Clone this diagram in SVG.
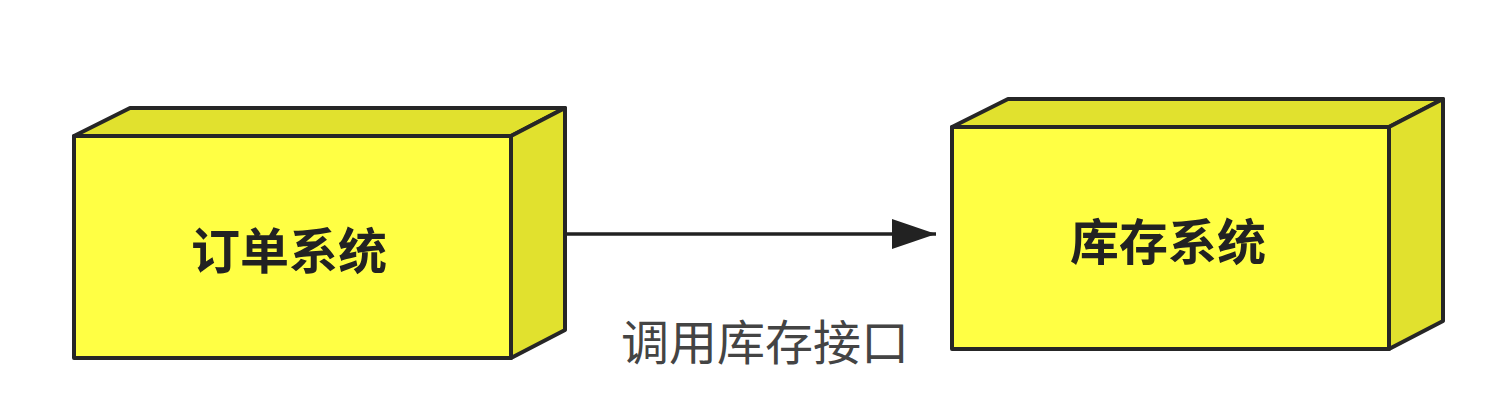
<svg xmlns="http://www.w3.org/2000/svg" width="1494" height="400" viewBox="0 0 1494 400">
<defs>
<style>
.front{fill:#FFFF44;stroke:#262626;stroke-width:4;stroke-linejoin:round}
.side{fill:#E1E12E;stroke:#262626;stroke-width:4;stroke-linejoin:round}
.title{font-family:"Noto Sans CJK SC","Noto Sans",sans-serif;font-weight:bold;font-size:49px;fill:#222;text-anchor:middle;dominant-baseline:central}
.lbl{font-family:"Noto Sans CJK SC","Noto Sans",sans-serif;font-size:48px;fill:#444;text-anchor:middle;dominant-baseline:central}
.edge{stroke:#222;stroke-width:3.5;fill:none}
</style>
<marker id="arr" markerUnits="userSpaceOnUse" markerWidth="48" markerHeight="34" refX="46" refY="16" orient="auto">
<path d="M2,1 L46,16 L2,31 Z" fill="#222"/>
</marker>
</defs>
<rect width="1494" height="400" fill="#fff"/>
<g id="node-order">
<path class="side" d="M74,136 L130,108 L565,108 L511,136 Z"/>
<path class="side" d="M511,136 L565,108 L565,330 L511,358 Z"/>
<rect class="front" x="74" y="136" width="437" height="222"/>
<text class="title" x="289" y="247">订单系统</text>
</g>
<g id="node-inventory">
<path class="side" d="M952,127 L1008,99 L1443,99 L1389,127 Z"/>
<path class="side" d="M1389,127 L1443,99 L1443,321 L1389,349 Z"/>
<rect class="front" x="952" y="127" width="437" height="222"/>
<text class="title" x="1168" y="238">库存系统</text>
</g>
<g id="connectors">
<line class="edge" x1="567" y1="234" x2="936" y2="234" marker-end="url(#arr)"/>
<text class="lbl" x="765" y="339">调用库存接口</text>
</g>
</svg>
